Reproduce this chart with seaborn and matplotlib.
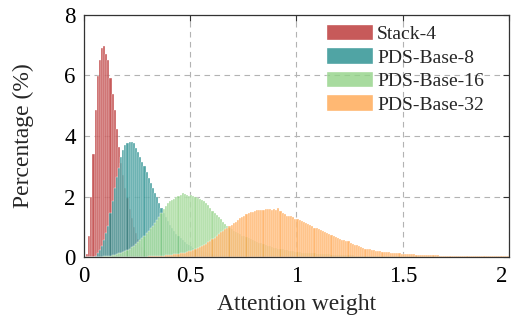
import numpy as np
import pandas as pd
import matplotlib
matplotlib.use("Agg")
import matplotlib.pyplot as plt
import matplotlib.transforms as mtransforms
import seaborn as sns

# ---- data (percentage per 0.01-wide bin of attention weight) ----
bin_width = 0.01
stack4_start = 0.01
stack4 = [0.12, 0.69, 2.0, 3.4, 4.86, 5.98, 6.5, 6.9, 6.97, 6.7,
          6.5, 5.9, 5.4, 4.86, 4.25, 3.65, 3.1, 2.7, 2.3, 1.95,
          1.6, 1.3, 1.0, 0.8, 0.6, 0.45, 0.33, 0.24, 0.17, 0.12,
          0.08, 0.06, 0.04, 0.03, 0.02, 0.02, 0.01, 0.01]

pds8_start = 0.04
pds8 = [0.02, 0.05, 0.14, 0.25, 0.38, 0.58, 0.8, 1.05, 1.45, 1.85,
        2.3, 2.65, 2.95, 3.3, 3.55, 3.7, 3.76, 3.8, 3.82, 3.78,
        3.62, 3.48, 3.32, 3.16, 3.0, 2.83, 2.62, 2.45, 2.28, 2.12,
        1.98, 1.78, 1.62, 1.47, 1.33, 1.2, 1.08, 0.97, 0.87, 0.78,
        0.7, 0.63, 0.56, 0.5, 0.45, 0.4, 0.36,
        0.32, 0.29, 0.26, 0.23, 0.21, 0.19, 0.17, 0.15, 0.14, 0.12,
        0.11, 0.1, 0.09, 0.08, 0.07, 0.065, 0.06, 0.05, 0.045, 0.04,
        0.035, 0.03, 0.03, 0.025, 0.02, 0.02, 0.02, 0.015, 0.015, 0.01]

pds16_start = 0.08
pds16 = [0.02, 0.03, 0.04, 0.05, 0.06, 0.08, 0.09, 0.11, 0.13, 0.15,
         0.18, 0.21, 0.25, 0.29, 0.34, 0.39, 0.45, 0.52, 0.58, 0.65,
         0.72, 0.8, 0.88, 0.96, 1.05, 1.14, 1.24, 1.34, 1.45, 1.58,
         1.7, 1.78, 1.85, 1.9, 1.94, 1.98, 2.02, 2.06, 2.12, 2.1,
         2.05, 2.03, 2.05, 2.04, 2.0, 1.97, 1.94, 1.9, 1.86, 1.8,
         1.72, 1.63, 1.54, 1.47, 1.4, 1.33, 1.25, 1.18, 1.1, 1.03,
         0.97, 0.92, 0.88, 0.84, 0.8, 0.76, 0.72, 0.69, 0.66, 0.63,
         0.6, 0.57, 0.54, 0.51, 0.48, 0.46, 0.43, 0.41, 0.39, 0.36,
         0.34, 0.32, 0.3, 0.29, 0.27, 0.26, 0.24, 0.23, 0.22, 0.21,
         0.2, 0.19, 0.18, 0.17, 0.16, 0.16, 0.15, 0.14, 0.14, 0.13,
         0.13, 0.12, 0.12, 0.11, 0.11, 0.1, 0.1, 0.1, 0.09, 0.09,
         0.09, 0.08, 0.08, 0.08, 0.08, 0.07, 0.07, 0.07, 0.07, 0.06,
         0.06, 0.06, 0.06, 0.06, 0.05, 0.05, 0.05, 0.05, 0.05, 0.05,
         0.04, 0.04, 0.04, 0.04, 0.04, 0.04, 0.04, 0.04, 0.04, 0.04,
         0.04, 0.04, 0.03, 0.03, 0.03, 0.03, 0.03, 0.03, 0.03, 0.03,
         0.03, 0.03, 0.03, 0.03, 0.03, 0.03, 0.03, 0.03, 0.03, 0.03,
         0.02, 0.02, 0.02, 0.02, 0.02, 0.02, 0.02, 0.02, 0.02, 0.02,
         0.02, 0.02, 0.02, 0.02, 0.02, 0.02, 0.02, 0.02, 0.02, 0.02,
         0.02, 0.02, 0.02, 0.02, 0.02, 0.02, 0.02, 0.02, 0.02, 0.02,
         0.02, 0.02]

pds32_start = 0.25
pds32 = [0.01, 0.01, 0.02, 0.02, 0.02, 0.03, 0.03, 0.04, 0.04, 0.05,
         0.05, 0.06, 0.06, 0.07, 0.08, 0.08, 0.09, 0.1, 0.11, 0.12,
         0.13, 0.14, 0.16, 0.18, 0.2, 0.22, 0.25, 0.28, 0.31, 0.34,
         0.37, 0.41, 0.45, 0.5, 0.55, 0.6, 0.65, 0.7, 0.76, 0.82,
         0.87, 0.92, 0.97, 1.02, 1.08, 1.13, 1.18, 1.24, 1.29, 1.33,
         1.38, 1.42, 1.45, 1.5, 1.51, 1.53, 1.55, 1.55, 1.56, 1.57,
         1.59, 1.58, 1.6, 1.57, 1.61, 1.55, 1.62, 1.52, 1.46, 1.42,
         1.38, 1.37, 1.36, 1.33, 1.27, 1.26, 1.22, 1.2, 1.15, 1.14,
         1.1, 1.07, 1.02, 0.98, 0.96, 0.92, 0.89, 0.86, 0.82, 0.8,
         0.78, 0.74, 0.7, 0.67, 0.64, 0.61, 0.58, 0.56, 0.54, 0.53,
         0.47, 0.45, 0.42, 0.4, 0.38, 0.35, 0.32, 0.29, 0.27, 0.26,
         0.24, 0.23, 0.22, 0.21, 0.2, 0.19, 0.18, 0.17, 0.17, 0.16,
         0.16, 0.15, 0.14, 0.13, 0.12, 0.12, 0.11, 0.11, 0.1, 0.1,
         0.1, 0.09, 0.09, 0.08, 0.08, 0.08, 0.08, 0.07, 0.07, 0.07,
         0.07, 0.07, 0.06, 0.06, 0.06, 0.06, 0.05, 0.05, 0.05, 0.05,
         0.05, 0.05, 0.04, 0.04, 0.04, 0.04, 0.04, 0.04, 0.04, 0.03,
         0.03, 0.03, 0.03, 0.03, 0.03, 0.03, 0.03, 0.03, 0.03, 0.03,
         0.03, 0.03, 0.03, 0.03, 0.03, 0.03, 0.03, 0.03, 0.03, 0.03,
         0.03, 0.03, 0.03, 0.03, 0.03, 0.02, 0.02, 0.02, 0.02, 0.02,
         0.02, 0.02, 0.02, 0.02, 0.02]

series_names = ["Stack-4", "PDS-Base-8", "PDS-Base-16", "PDS-Base-32"]
series_values = [stack4, pds8, pds16, pds32]
series_starts = [stack4_start, pds8_start, pds16_start, pds32_start]
colors = ["#BA3131", "#248E8E", "#92D387", "#FFA750"]

xticks = [0, 0.5, 1, 1.5, 2]
xtick_labels = ["0", "0.5", "1", "1.5", "2"]
yticks = [0, 2, 4, 6, 8]
ytick_labels = ["0", "2", "4", "6", "8"]

# ---- build long table ----
rows = []
for name, vals, start in zip(series_names, series_values, series_starts):
    for i, v in enumerate(vals):
        rows.append({"series": name,
                     "weight_x": round(start + i * bin_width + bin_width / 2, 4),
                     "pct": v})
df = pd.DataFrame(rows)

sns.set_theme(style="white")
plt.rcParams["font.family"] = ["Liberation Serif", "DejaVu Serif"]

fig = plt.figure(figsize=(5.13, 3.15), dpi=100)
ax = fig.add_axes([0.1637, 0.183, 0.8285, 0.770])

for name, col in zip(series_names, colors):
    sub = df[df["series"] == name]
    sns.histplot(data=sub, x="weight_x", weights="pct",
                 binwidth=bin_width, binrange=(0, 2),
                 color=col, alpha=0.8, edgecolor="white", linewidth=0.25,
                 label=name, ax=ax, stat="count")

ax.set_xlim(0, 2)
ax.set_ylim(0, 8)
ax.set_xticks(xticks)
ax.set_xticklabels(xtick_labels)
ax.set_yticks(yticks)
ax.set_yticklabels(ytick_labels)
ax.tick_params(direction="in", length=4, width=0.8, colors="#333333",
               top=True, right=True, labelsize=16.5, labelcolor="black")
ax.tick_params(axis="x", pad=6)
ax.tick_params(axis="y", pad=6)
ax.grid(True, linestyle=(0, (5, 4)), color="#b3b3b3", linewidth=0.8)
ax.set_axisbelow(True)
for s in ax.spines.values():
    s.set_color("#333333")
    s.set_linewidth(0.9)
    s.set_visible(True)

# keep the last x tick label inside the canvas
last_lbl = ax.get_xticklabels()[-1]
last_lbl.set_transform(last_lbl.get_transform() +
                       mtransforms.ScaledTranslation(-5 / 72, 0, fig.dpi_scale_trans))

ax.set_xlabel("Attention weight", fontsize=17)
ax.set_ylabel("Percentage (%)", fontsize=17)
ax.xaxis.set_label_coords(0.501, -0.152)
ax.yaxis.set_label_coords(-0.118, 0.5)

leg = ax.legend(loc="upper left", bbox_to_anchor=(0.571, 0.958), frameon=False,
                fontsize=14, handlelength=2.4, handleheight=0.85,
                handletextpad=0.2, labelspacing=0.25, borderpad=0,
                borderaxespad=0)

fig.savefig("out.png", dpi=100)
